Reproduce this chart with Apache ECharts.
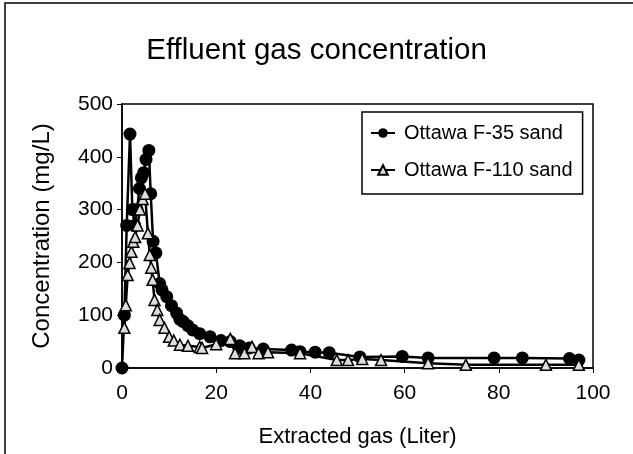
<!DOCTYPE html>
<html>
<head>
<meta charset="utf-8">
<script src="https://cdn.jsdelivr.net/npm/echarts@6/dist/echarts.min.js"></script>
<style>
  html, body { margin: 0; padding: 0; background: #fff; }
  #chart { width: 633px; height: 454px; }
</style>
</head>
<body>
<div id="chart"></div>
<script>
// Ottawa F-35 sand: [extracted gas (L), concentration (mg/L)]
var f35 = [
    [0, 0], [0.5, 100], [1, 270], [1.7, 443], [2.2, 300], [2.7, 270], [3.2, 300],
    [3.7, 340], [4.1, 360], [4.6, 370], [5.1, 395], [5.7, 412], [6.1, 330],
    [6.6, 240], [7.2, 218], [8, 160], [8.5, 148], [9.5, 135], [10.5, 118],
    [11.6, 104], [12.3, 92], [13, 88], [14, 80], [15, 72], [16.5, 65],
    [18.7, 59], [21, 52], [23, 50], [25, 42], [27, 38], [30, 36], [36, 34],
    [37.8, 31], [41, 30], [44, 29], [50.5, 21], [59.5, 22], [65, 19],
    [79, 19], [85, 19], [95, 18], [97, 15]
];
// Ottawa F-110 sand
var f110 = [
    [0.5, 76], [0.8, 119], [1.2, 176], [1.6, 199], [2, 220], [2.4, 239],
    [2.8, 248], [3.3, 270], [3.8, 300], [4.4, 320], [4.9, 330], [5.5, 255],
    [5.9, 214], [6.2, 190], [6.5, 167], [6.9, 129], [7.5, 110], [8, 91],
    [9, 76], [10, 59], [11, 52], [12.3, 44], [14, 42], [16.5, 40], [17, 38],
    [20, 45], [23, 55], [24, 28], [26, 28], [27.6, 40], [29, 28], [31, 30],
    [37.8, 28], [45.6, 15], [48, 15], [51, 17], [55, 15], [65, 9], [73, 6],
    [90, 6], [97, 6]
];
var xTicks = [0, 20, 40, 60, 80, 100];
var yTicks = [0, 100, 200, 300, 400, 500];

var chart = echarts.init(document.getElementById('chart'));
var font = 'Liberation Sans, Arial, sans-serif';

var option = {
    backgroundColor: '#fff',
    animation: false,
    title: {
        text: 'Effluent gas concentration',
        left: 'center',
        top: 31,
        textStyle: { fontFamily: font, fontSize: 29.5, fontWeight: 'normal', color: '#000' }
    },
    graphic: [{
        type: 'rect',
        shape: { x: 5, y: 3, width: 700, height: 500 },
        style: { fill: null, stroke: '#000', lineWidth: 1.5 },
        silent: true
    }],
    legend: {
        orient: 'vertical',
        left: 362,
        top: 112,
        padding: [11, 10, 14, 8],
        itemGap: 17,
        itemWidth: 24,
        itemHeight: 12,
        borderColor: '#000',
        borderWidth: 1.5,
        textStyle: { fontFamily: font, fontSize: 20, color: '#000', padding: [0, 0, 0, 4] },
        data: ['Ottawa F-35 sand', 'Ottawa F-110 sand']
    },
    grid: { left: 122, right: 40, top: 104, bottom: 86, show: true, borderColor: '#000', borderWidth: 1.5 },
    xAxis: {
        type: 'value',
        min: xTicks[0],
        max: xTicks[xTicks.length - 1],
        interval: 20,
        name: 'Extracted gas (Liter)',
        nameLocation: 'middle',
        nameGap: 58,
        nameTextStyle: { fontFamily: font, fontSize: 22, color: '#000' },
        axisLine: { lineStyle: { color: '#000', width: 1.5 } },
        axisTick: { length: 5, lineStyle: { color: '#000' } },
        axisLabel: { fontFamily: font, fontSize: 21, color: '#000', margin: 15 },
        splitLine: { show: false }
    },
    yAxis: {
        type: 'value',
        min: yTicks[0],
        max: yTicks[yTicks.length - 1],
        interval: 100,
        name: 'Concentration (mg/L)',
        nameLocation: 'middle',
        nameGap: 68,
        nameTextStyle: { fontFamily: font, fontSize: 24, color: '#000' },
        axisLine: { lineStyle: { color: '#000', width: 1.5 } },
        axisTick: { length: 5, lineStyle: { color: '#000' } },
        axisLabel: { fontFamily: font, fontSize: 21, color: '#000', margin: 9 },
        splitLine: { show: false }
    },
    series: [
        {
            name: 'Ottawa F-35 sand',
            type: 'line',
            data: f35,
            symbol: 'circle',
            symbolSize: 13,
            itemStyle: { color: '#000' },
            lineStyle: { color: '#000', width: 2.5 },
            z: 3
        },
        {
            name: 'Ottawa F-110 sand',
            type: 'line',
            data: f110,
            symbol: 'triangle',
            symbolSize: 11,
            itemStyle: { color: '#ddd', borderColor: '#000', borderWidth: 1.5 },
            lineStyle: { color: '#000', width: 2.5 },
            z: 4
        }
    ]
};
chart.setOption(option);
</script>
</body>
</html>
